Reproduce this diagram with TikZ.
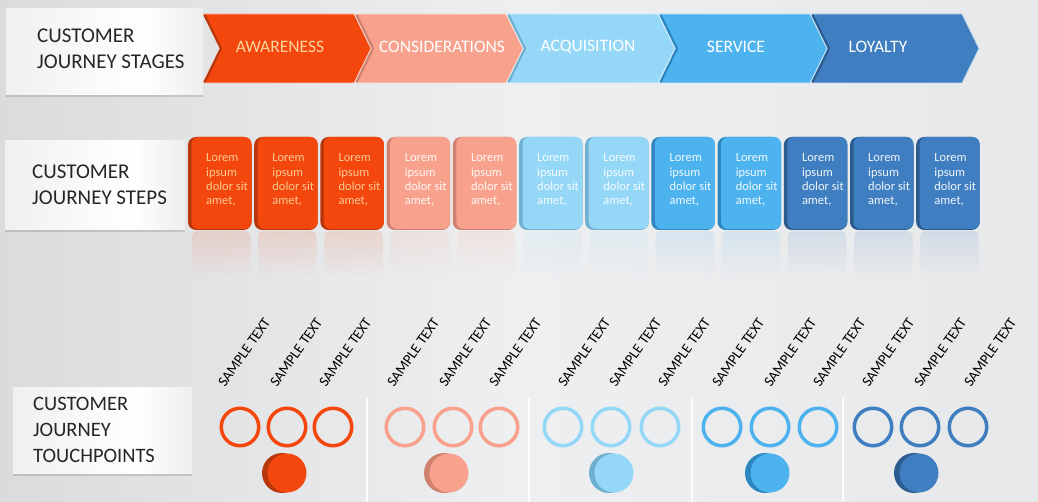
\documentclass[tikz,border=0pt]{standalone}
\usepackage{fontspec}
\setmainfont{Carlito}
\usetikzlibrary{shadows,fadings}

% palette
\definecolor{bgL}{HTML}{DADBDD}
\definecolor{bgM}{HTML}{EEEFF0}
\definecolor{bgR}{HTML}{E7E8EA}
\definecolor{cOr}{HTML}{F4470E}
\definecolor{cOrD}{HTML}{B8360B}
\definecolor{cSa}{HTML}{F8A18C}
\definecolor{cSaD}{HTML}{CF806E}
\definecolor{cLb}{HTML}{94D7F7}
\definecolor{cLbD}{HTML}{6FAFD0}
\definecolor{cMb}{HTML}{4CB3EF}
\definecolor{cMbD}{HTML}{2E86C0}
\definecolor{cDb}{HTML}{3F7FC1}
\definecolor{cDbD}{HTML}{2B5C8F}
\definecolor{txtDark}{HTML}{262626}
\definecolor{tabA}{HTML}{D0D1D4}
\definecolor{tabB}{HTML}{EEEEF0}
\definecolor{tabC}{HTML}{E2E3E5}
\definecolor{tabD}{HTML}{A9AAAE}
\definecolor{loremOr}{HTML}{FAD59E}

\pgfdeclarehorizontalshading{tabshade}{100bp}{%
  color(0bp)=(tabA); color(20bp)=(tabB); color(60bp)=(white);
  color(85bp)=(tabC); color(100bp)=(tabD)}

% soft-edged fading for card reflections
\tikzfading[name=softdown, top color=transparent!55, bottom color=transparent!100]

\tikzset{
  tab/.style={shading=tabshade, draw=none, inner sep=0,
    drop shadow={shadow xshift=0pt, shadow yshift=-3pt, opacity=0.2,
                 fill=black!70}},
  tablabel/.style={anchor=west, align=left, text=txtDark,
    font=\fontsize{21}{25.5}\selectfont, inner sep=0},
  stagelabel/.style={font=\fontsize{17.5}{20}\selectfont, inner sep=0},
  lorem/.style={anchor=north west, align=left, inner sep=0,
    font=\fontsize{12.5}{14.3}\selectfont},
  sample/.style={rotate=55, anchor=base west, inner sep=0,
    text=black, font=\fontsize{14.5}{15}\selectfont},
  ring/.style={line width=3.5pt},
  sepline/.style={white, line width=1.3pt, opacity=0.85}
}

\begin{document}
\begin{tikzpicture}[x=1pt,y=-1pt]
\useasboundingbox (0,0) rectangle (1038,502);

% backdrop
\shade[left color=bgL, right color=bgR, middle color=bgM] (0,0) rectangle (1038,502);

% ---------- row labels ----------
\node[tab, minimum width=197, minimum height=86, anchor=north west] (stagesTab) at (6,8) {};
\node[tablabel] (stagesTxt) at ([xshift=31pt,yshift=2.5pt]stagesTab.west) {CUSTOMER\\JOURNEY STAGES};

\node[tab, minimum width=180, minimum height=89, anchor=north west] (stepsTab) at (5,140) {};
\node[tablabel] (stepsTxt) at ([xshift=27pt]stepsTab.west) {CUSTOMER\\JOURNEY STEPS};

\node[tab, minimum width=179, minimum height=86, anchor=north west] (tpTab) at (13,387) {};
\node[tablabel, font=\fontsize{20.5}{26}\selectfont] (tpTxt) at ([xshift=20pt]tpTab.west) {CUSTOMER\\JOURNEY\\TOUCHPOINTS};

% ---------- stage chevrons ----------
\foreach \i/\fc/\dc/\lab/\lx/\tc in {
    0/cOr/cOrD/AWARENESS/280/loremOr,
    1/cSa/cSaD/CONSIDERATIONS/442/white,
    2/cLb/cLbD/ACQUISITION/588/white,
    3/cMb/cMbD/SERVICE/736/white,
    4/cDb/cDbD/LOYALTY/878/white} {
  \pgfmathsetmacro{\L}{203+152*\i}
  \pgfmathsetmacro{\R}{\L+168}
  \fill[\fc, draw=white!70!\fc, line width=0.8pt]
    (\L,14) -- (\R-17,14) -- (\R,48.5) -- (\R-17,83) -- (\L,83) -- (\L+17,48.5) -- cycle;
  \draw[\dc, line width=2.2pt, line join=miter]
    (\L+1.5,14.8) -- (\L+18,48.5) -- (\L+1.5,82.2);
  \node[stagelabel, text=\tc] (stage\i) at (\lx,46.5) {\lab};
}

% ---------- step cards ----------
\foreach \j/\fc/\dc/\tc in {
    0/cOr/cOrD/loremOr, 1/cOr/cOrD/loremOr, 2/cOr/cOrD/loremOr,
    3/cSa/cSaD/white, 4/cSa/cSaD/white,
    5/cLb/cLbD/white, 6/cLb/cLbD/white,
    7/cMb/cMbD/white, 8/cMb/cMbD/white,
    9/cDb/cDbD/white, 10/cDb/cDbD/white, 11/cDb/cDbD/white} {
  \pgfmathsetmacro{\X}{188+66.2*\j}
  % soft reflection under the card
  \fill[\fc, opacity=0.3, path fading=softdown, rounded corners=6pt]
    (\X+4,231) rectangle (\X+62.5,276);
  % darker side face, then the front face
  \fill[\dc, rounded corners=8pt] (\X,137) rectangle (\X+63.5,230);
  \fill[\fc, rounded corners=7pt] (\X+3.5,137) rectangle (\X+63.5,229);
  \node[lorem, text=\tc, text opacity=0.92] (step\j) at (\X+18,153.5)
    {Lorem\\ipsum\\dolor sit\\amet,};
}

% ---------- separators between touchpoint groups ----------
\foreach \sx in {367,529,692,843} {
  \coordinate (sepTop\sx) at (\sx,398);
  \coordinate (sepBot\sx) at (\sx,502);
  \draw[sepline] (sepTop\sx) -- (sepBot\sx);
}

% ---------- rotated captions ----------
\foreach \k/\sx in {0/225,1/277,2/326,3/394,4/446,5/496,6/565,7/616,8/665,
                    9/719,10/771,11/820,12/869,13/921,14/971} {
  \node[sample] (sample\k) at (\sx,388) {SAMPLE TEXT};
}

% ---------- touchpoint rings and markers ----------
\foreach \g/\fc/\dc/\xa/\xb/\xc/\fx in {
    0/cOr/cOrD/240/287/333/286,
    1/cSa/cSaD/405/453/499/448,
    2/cLb/cLbD/563/611/660/613,
    3/cMb/cMbD/722/770/818/769,
    4/cDb/cDbD/873/920/968/918} {
  \foreach \cx/\n in {\xa/a,\xb/b,\xc/c} {
    \node[circle, draw=\fc, ring, minimum size=37.5pt, inner sep=0] (ring\g\n) at (\cx,427) {};
  }
  \node[circle, fill=\dc, minimum size=40pt, inner sep=0] (markSide\g) at (\fx-4,473) {};
  \node[circle, fill=\fc, minimum size=39pt, inner sep=0] (mark\g) at (\fx+1,473) {};
}
\end{tikzpicture}
\end{document}
